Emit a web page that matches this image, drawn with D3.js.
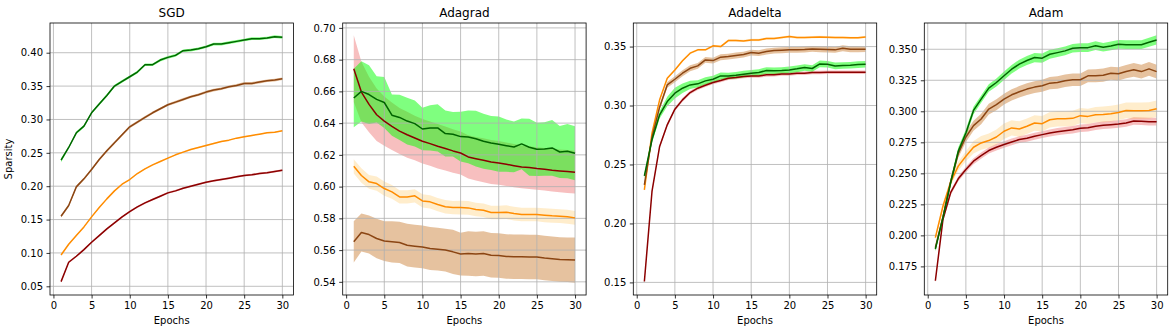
<!DOCTYPE html>
<html>
<head>
<meta charset="utf-8">
<script src="https://cdn.jsdelivr.net/npm/d3@7"></script>
<style>
  body { margin: 0; background: #fff; }
  text { font-family: "DejaVu Sans", sans-serif; fill: #000; }
</style>
</head>
<body>
<div id="chart"></div>
<script>
// Data
var epochs = [1,2,3,4,5,6,7,8,9,10,11,12,13,14,15,16,17,18,19,20,21,22,23,24,25,26,27,28,29,30];
var xTicks = [0,5,10,15,20,25,30];
var optimizers = ["SGD", "Adagrad", "Adadelta", "Adam"];

// SGD
var sgdGreen  = [0.239,0.258,0.280,0.290,0.310,0.323,0.336,0.350,0.357,0.364,0.371,0.382,0.382,0.389,0.393,0.396,0.403,0.404,0.406,0.409,0.413,0.413,0.415,0.417,0.419,0.421,0.421,0.422,0.424,0.423];
var sgdBrown  = [0.155,0.171,0.199,0.211,0.225,0.240,0.253,0.265,0.277,0.289,0.296,0.303,0.310,0.316,0.322,0.326,0.330,0.334,0.337,0.341,0.344,0.346,0.349,0.351,0.354,0.354,0.356,0.358,0.359,0.361];
var sgdOrange = [0.097,0.113,0.126,0.139,0.154,0.168,0.181,0.193,0.203,0.210,0.219,0.226,0.232,0.237,0.242,0.247,0.251,0.255,0.258,0.261,0.264,0.267,0.269,0.272,0.274,0.276,0.278,0.280,0.281,0.283];
var sgdRed    = [0.057,0.086,0.095,0.105,0.116,0.126,0.136,0.145,0.154,0.162,0.169,0.175,0.180,0.185,0.190,0.193,0.197,0.200,0.203,0.206,0.208,0.210,0.212,0.214,0.216,0.217,0.219,0.220,0.222,0.224];
var sgdGreenStd  = [0.003,0.002,0.002,0.002,0.002,0.002,0.002,0.002,0.002,0.002,0.002,0.002,0.002,0.002,0.002,0.002,0.002,0.002,0.002,0.002,0.002,0.002,0.002,0.002,0.002,0.002,0.002,0.002,0.002,0.002];
var sgdBrownStd  = [0.002,0.002,0.002,0.002,0.002,0.002,0.002,0.002,0.002,0.002,0.002,0.002,0.002,0.002,0.002,0.002,0.002,0.002,0.002,0.002,0.002,0.002,0.002,0.002,0.002,0.002,0.002,0.002,0.002,0.002];
var sgdOrangeStd = [0.001,0.001,0.001,0.001,0.001,0.001,0.001,0.001,0.001,0.001,0.001,0.001,0.001,0.001,0.001,0.001,0.001,0.001,0.001,0.001,0.001,0.001,0.001,0.001,0.001,0.001,0.001,0.001,0.001,0.001];
var sgdRedStd    = [0.0015,0.0015,0.0015,0.0015,0.0015,0.0015,0.0015,0.0015,0.0015,0.0015,0.0015,0.0015,0.0015,0.0015,0.0015,0.0015,0.0015,0.0015,0.0015,0.0015,0.0015,0.0015,0.0015,0.0015,0.0015,0.0015,0.0015,0.0015,0.0015,0.0015];

// Adagrad
var adagradGreen  = [0.6558,0.6600,0.6580,0.6550,0.6530,0.6450,0.6436,0.6413,0.6397,0.6363,0.6370,0.6370,0.6334,0.6330,0.6315,0.6313,0.6302,0.6286,0.6275,0.6267,0.6258,0.6250,0.6269,0.6248,0.6235,0.6237,0.6244,0.6218,0.6223,0.6210];
var adagradBrown  = [0.5652,0.5711,0.5698,0.5673,0.5657,0.5652,0.5648,0.5631,0.5625,0.5620,0.5610,0.5606,0.5600,0.5589,0.5575,0.5579,0.5575,0.5579,0.5568,0.5566,0.5560,0.5558,0.5558,0.5556,0.5556,0.5550,0.5546,0.5541,0.5539,0.5537];
var adagradOrange = [0.6128,0.6070,0.6030,0.6019,0.5988,0.5967,0.5935,0.5935,0.5942,0.5910,0.5904,0.5887,0.5873,0.5868,0.5868,0.5866,0.5856,0.5851,0.5837,0.5837,0.5839,0.5830,0.5824,0.5824,0.5824,0.5820,0.5816,0.5814,0.5810,0.5803];
var adagradRed    = [0.6743,0.6596,0.6518,0.6453,0.6413,0.6380,0.6350,0.6327,0.6306,0.6286,0.6271,0.6254,0.6240,0.6225,0.6212,0.6187,0.6176,0.6166,0.6155,0.6149,0.6141,0.6132,0.6124,0.6120,0.6114,0.6110,0.6103,0.6099,0.6095,0.6091];
var adagradGreenStd  = [0.0184,0.0190,0.0185,0.0146,0.0160,0.0130,0.0143,0.0147,0.0145,0.0134,0.0143,0.0149,0.0145,0.0140,0.0157,0.0166,0.0176,0.0173,0.0170,0.0174,0.0165,0.0160,0.0160,0.0180,0.0168,0.0168,0.0175,0.0164,0.0171,0.0170];
var adagradBrownStd  = [0.0130,0.0120,0.0120,0.0125,0.0125,0.0130,0.0130,0.0135,0.0135,0.0135,0.0135,0.0135,0.0135,0.0140,0.0135,0.0140,0.0140,0.0140,0.0140,0.0140,0.0140,0.0140,0.0140,0.0140,0.0140,0.0140,0.0140,0.0140,0.0140,0.0142];
var adagradOrangeStd = [0.0045,0.0045,0.0043,0.0045,0.0045,0.0043,0.0042,0.0042,0.0042,0.0042,0.0042,0.0042,0.0042,0.0042,0.0043,0.0043,0.0042,0.0042,0.0042,0.0042,0.0043,0.0043,0.0043,0.0043,0.0043,0.0044,0.0044,0.0044,0.0044,0.0044];
var adagradRedStd    = [0.0210,0.0190,0.0175,0.0165,0.0155,0.0150,0.0145,0.0145,0.0140,0.0140,0.0140,0.0140,0.0138,0.0137,0.0135,0.0136,0.0137,0.0138,0.0138,0.0138,0.0137,0.0136,0.0135,0.0135,0.0134,0.0134,0.0134,0.0135,0.0135,0.0135];

// Adadelta
var adadeltaGreen  = [0.2404,0.2710,0.2921,0.3034,0.3105,0.3147,0.3175,0.3184,0.3209,0.3223,0.3251,0.3251,0.3257,0.3266,0.3274,0.3280,0.3297,0.3295,0.3297,0.3302,0.3311,0.3322,0.3314,0.3353,0.3350,0.3336,0.3339,0.3342,0.3347,0.3350];
var adadeltaBrown  = [0.2328,0.2732,0.2986,0.3175,0.3223,0.3274,0.3316,0.3336,0.3387,0.3381,0.3410,0.3415,0.3424,0.3432,0.3449,0.3444,0.3458,0.3466,0.3469,0.3472,0.3472,0.3475,0.3480,0.3477,0.3475,0.3472,0.3486,0.3477,0.3477,0.3477];
var adadeltaOrange = [0.2285,0.2766,0.3048,0.3232,0.3302,0.3379,0.3444,0.3472,0.3472,0.3506,0.3500,0.3551,0.3551,0.3548,0.3556,0.3556,0.3568,0.3568,0.3576,0.3585,0.3576,0.3576,0.3579,0.3582,0.3579,0.3576,0.3576,0.3574,0.3574,0.3582];
var adadeltaRed    = [0.1508,0.2271,0.2653,0.2836,0.2969,0.3048,0.3110,0.3147,0.3172,0.3195,0.3212,0.3232,0.3237,0.3246,0.3251,0.3251,0.3260,0.3262,0.3268,0.3268,0.3274,0.3274,0.3280,0.3280,0.3282,0.3282,0.3282,0.3282,0.3282,0.3282];
var adadeltaGreenStd  = [0.0020,0.0025,0.0030,0.0040,0.0045,0.0040,0.0035,0.0030,0.0030,0.0030,0.0030,0.0028,0.0028,0.0028,0.0028,0.0028,0.0028,0.0028,0.0028,0.0028,0.0028,0.0028,0.0028,0.0028,0.0028,0.0028,0.0028,0.0028,0.0028,0.0028];
var adadeltaBrownStd  = [0.0015,0.0020,0.0020,0.0025,0.0025,0.0025,0.0025,0.0025,0.0025,0.0025,0.0025,0.0025,0.0025,0.0025,0.0025,0.0025,0.0025,0.0025,0.0025,0.0025,0.0025,0.0025,0.0025,0.0025,0.0025,0.0025,0.0025,0.0025,0.0025,0.0024];
var adadeltaOrangeStd = [0.0010,0.0010,0.0010,0.0010,0.0010,0.0010,0.0010,0.0010,0.0010,0.0010,0.0010,0.0010,0.0010,0.0010,0.0010,0.0010,0.0010,0.0010,0.0010,0.0010,0.0010,0.0010,0.0010,0.0010,0.0010,0.0010,0.0010,0.0010,0.0010,0.0010];
var adadeltaRedStd    = [0.0010,0.0015,0.0015,0.0015,0.0015,0.0015,0.0015,0.0015,0.0015,0.0015,0.0015,0.0015,0.0015,0.0015,0.0015,0.0015,0.0015,0.0015,0.0015,0.0015,0.0015,0.0015,0.0015,0.0015,0.0015,0.0015,0.0015,0.0015,0.0015,0.0015];

// Adam
var adamGreen  = [0.1889,0.2143,0.2424,0.2678,0.2825,0.3007,0.3098,0.3187,0.3232,0.3286,0.3339,0.3380,0.3409,0.3433,0.3428,0.3460,0.3473,0.3487,0.3508,0.3513,0.3513,0.3529,0.3516,0.3527,0.3540,0.3537,0.3537,0.3537,0.3556,0.3575];
var adamBrown  = [0.1900,0.2150,0.2430,0.2660,0.2793,0.2884,0.2938,0.3018,0.3053,0.3098,0.3133,0.3157,0.3179,0.3195,0.3206,0.3227,0.3232,0.3246,0.3254,0.3254,0.3286,0.3286,0.3291,0.3307,0.3302,0.3320,0.3334,0.3320,0.3342,0.3320];
var adamOrange = [0.1982,0.2237,0.2429,0.2558,0.2638,0.2710,0.2745,0.2764,0.2793,0.2839,0.2866,0.2857,0.2879,0.2906,0.2900,0.2932,0.2940,0.2940,0.2943,0.2965,0.2959,0.2973,0.2975,0.2981,0.2991,0.3007,0.3005,0.3005,0.3007,0.3021];
var adamRed    = [0.1634,0.2130,0.2344,0.2456,0.2531,0.2598,0.2643,0.2684,0.2710,0.2732,0.2753,0.2772,0.2783,0.2799,0.2812,0.2825,0.2836,0.2844,0.2852,0.2863,0.2868,0.2879,0.2887,0.2892,0.2898,0.2906,0.2922,0.2919,0.2916,0.2916];
var adamGreenStd  = [0.0020,0.0025,0.0030,0.0030,0.0030,0.0030,0.0030,0.0030,0.0032,0.0034,0.0035,0.0036,0.0036,0.0037,0.0037,0.0036,0.0036,0.0035,0.0035,0.0035,0.0035,0.0035,0.0035,0.0035,0.0035,0.0035,0.0035,0.0035,0.0036,0.0037];
var adamBrownStd  = [0.0020,0.0025,0.0030,0.0035,0.0040,0.0040,0.0042,0.0043,0.0044,0.0044,0.0045,0.0046,0.0047,0.0048,0.0049,0.0050,0.0050,0.0050,0.0050,0.0050,0.0051,0.0052,0.0053,0.0053,0.0054,0.0054,0.0055,0.0055,0.0055,0.0056];
var adamOrangeStd = [0.0020,0.0025,0.0030,0.0035,0.0040,0.0050,0.0055,0.0058,0.0060,0.0062,0.0062,0.0062,0.0062,0.0062,0.0062,0.0062,0.0062,0.0062,0.0062,0.0062,0.0062,0.0062,0.0063,0.0063,0.0064,0.0064,0.0065,0.0065,0.0065,0.0066];
var adamRedStd    = [0.0015,0.0020,0.0020,0.0020,0.0022,0.0024,0.0025,0.0025,0.0026,0.0026,0.0027,0.0027,0.0028,0.0028,0.0028,0.0029,0.0029,0.0029,0.0030,0.0030,0.0030,0.0030,0.0030,0.0030,0.0030,0.0030,0.0030,0.0030,0.0031,0.0031];

var yTicks = [
  [0.05,0.10,0.15,0.20,0.25,0.30,0.35,0.40],
  [0.54,0.56,0.58,0.60,0.62,0.64,0.66,0.68,0.70],
  [0.15,0.20,0.25,0.30,0.35],
  [0.175,0.200,0.225,0.250,0.275,0.300,0.325,0.350]
];
var yFormats = [".2f", ".2f", ".2f", ".3f"];

// series order = draw order (red, orange, brown, green)
var lineColors = ["#8b0000", "#ff8c00", "#8b4513", "#006400"];
var bandColors = ["rgba(240,128,128,0.5)", "rgba(255,165,0,0.2)", "rgba(205,133,63,0.5)", "rgba(0,255,0,0.5)"];

var panels = [
  {means: [sgdRed, sgdOrange, sgdBrown, sgdGreen], stds: [sgdRedStd, sgdOrangeStd, sgdBrownStd, sgdGreenStd]},
  {means: [adagradRed, adagradOrange, adagradBrown, adagradGreen], stds: [adagradRedStd, adagradOrangeStd, adagradBrownStd, adagradGreenStd]},
  {means: [adadeltaRed, adadeltaOrange, adadeltaBrown, adadeltaGreen], stds: [adadeltaRedStd, adadeltaOrangeStd, adadeltaBrownStd, adadeltaGreenStd]},
  {means: [adamRed, adamOrange, adamBrown, adamGreen], stds: [adamRedStd, adamOrangeStd, adamBrownStd, adamGreenStd]}
];

// Layout
var width = 1173, height = 333;
var panelLeft = [50, 342.7, 633.3, 924.3];
var panelW = 243.4;
var plotTop = 23, plotBottom = 295;

var svg = d3.select("#chart").append("svg")
    .attr("width", width)
    .attr("height", height);

panels.forEach(function(p, pi) {
  var g = svg.append("g")
      .attr("transform", "translate(" + panelLeft[pi] + ",0)");

  // matplotlib style 5% margins
  var lo = d3.min(p.means, function(m, si) { return d3.min(m, function(v, i) { return v - p.stds[si][i]; }); });
  var hi = d3.max(p.means, function(m, si) { return d3.max(m, function(v, i) { return v + p.stds[si][i]; }); });
  var pad = (hi - lo) * 0.05;
  var xPad = (epochs[epochs.length - 1] - epochs[0]) * 0.05;

  var x = d3.scaleLinear()
      .domain([epochs[0] - xPad, epochs[epochs.length - 1] + xPad])
      .range([0, panelW]);
  var y = d3.scaleLinear()
      .domain([lo - pad, hi + pad])
      .range([plotBottom, plotTop]);

  var clipId = "clip" + pi;
  g.append("clipPath").attr("id", clipId)
    .append("rect").attr("x", 0).attr("y", plotTop).attr("width", panelW).attr("height", plotBottom - plotTop);

  var plot = g.append("g").attr("clip-path", "url(#" + clipId + ")");

  // bands
  var area = d3.area()
      .x(function(d) { return x(d.e); })
      .y0(function(d) { return y(d.m - d.s); })
      .y1(function(d) { return y(d.m + d.s); });

  p.means.forEach(function(m, si) {
    var pts = epochs.map(function(e, i) { return {e: e, m: m[i], s: p.stds[si][i]}; });
    plot.append("path")
        .attr("d", area(pts))
        .attr("fill", bandColors[si])
        .attr("stroke", "none");
  });

  // grid above the bands, below the lines
  plot.selectAll("line.gx").data(xTicks).enter().append("line")
      .attr("x1", function(d) { return x(d); })
      .attr("x2", function(d) { return x(d); })
      .attr("y1", plotTop).attr("y2", plotBottom)
      .attr("stroke", "#b0b0b0").attr("stroke-width", 0.8);
  plot.selectAll("line.gy").data(yTicks[pi]).enter().append("line")
      .attr("x1", 0).attr("x2", panelW)
      .attr("y1", function(d) { return y(d); })
      .attr("y2", function(d) { return y(d); })
      .attr("stroke", "#b0b0b0").attr("stroke-width", 0.8);

  var line = d3.line()
      .x(function(d, i) { return x(epochs[i]); })
      .y(function(d) { return y(d); });

  p.means.forEach(function(m, si) {
    plot.append("path")
        .attr("d", line(m))
        .attr("fill", "none")
        .attr("stroke", lineColors[si])
        .attr("stroke-width", 1.5)
        .attr("stroke-linejoin", "round");
  });

  // axes
  var xAxis = d3.axisBottom(x).tickValues(xTicks).tickSize(3.5).tickPadding(3.5).tickFormat(d3.format("d"));
  var yAxis = d3.axisLeft(y).tickValues(yTicks[pi]).tickSize(3.5).tickPadding(3.5).tickFormat(d3.format(yFormats[pi]));

  var gx = g.append("g").attr("transform", "translate(0," + plotBottom + ")").call(xAxis);
  var gy = g.append("g").call(yAxis);
  [gx, gy].forEach(function(a) {
    a.select(".domain").remove();
    a.selectAll("line").attr("stroke", "#000").attr("stroke-width", 0.8);
    a.selectAll("text").attr("font-size", 10).attr("font-family", "DejaVu Sans, sans-serif").attr("fill", "#222");
  });

  // frame
  g.append("rect")
      .attr("x", 0).attr("y", plotTop)
      .attr("width", panelW).attr("height", plotBottom - plotTop)
      .attr("fill", "none").attr("stroke", "#000").attr("stroke-width", 0.8);

  g.append("text")
      .attr("x", panelW / 2).attr("y", 17)
      .attr("text-anchor", "middle")
      .attr("font-size", 12)
      .text(optimizers[pi]);

  g.append("text")
      .attr("x", panelW / 2).attr("y", 324)
      .attr("text-anchor", "middle")
      .attr("font-size", 10)
      .text("Epochs");

  if (pi === 0) {
    g.append("text")
        .attr("transform", "translate(" + (-38) + "," + ((plotTop + plotBottom) / 2) + ") rotate(-90)")
        .attr("text-anchor", "middle")
        .attr("font-size", 10)
        .text("Sparsity");
  }
});
</script>
</body>
</html>
